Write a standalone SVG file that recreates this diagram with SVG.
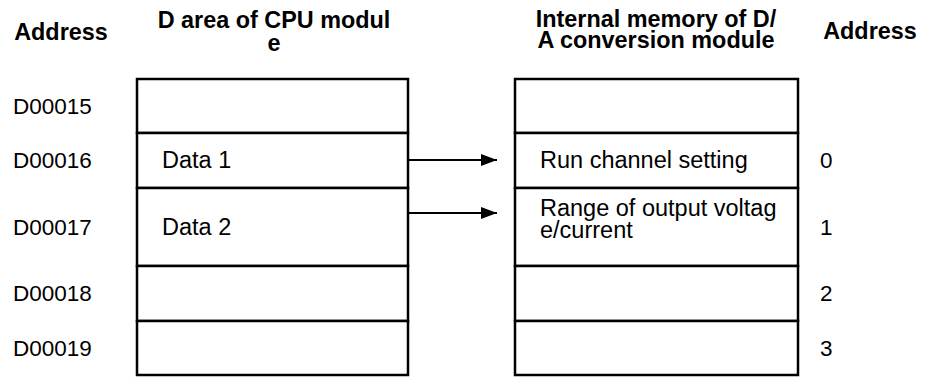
<svg xmlns="http://www.w3.org/2000/svg" width="925" height="379" viewBox="0 0 925 379">
<defs>
<style>
text{font-family:"Liberation Sans",Arial,sans-serif;font-size:22.5px;fill:#000}
.t{font-size:23.5px}
.b{font-weight:bold;font-size:23.4px}
.c{text-anchor:middle}
.box{fill:#fff;stroke:#000;stroke-width:2.5}
.conn{stroke:#000;stroke-width:2;fill:none}
</style>
<marker id="ah" markerWidth="16" markerHeight="12" refX="16" refY="6" orient="auto" markerUnits="userSpaceOnUse">
<path d="M0,0 L16,6 L0,12 Z" fill="#000"/>
</marker>
</defs>
<rect width="925" height="379" fill="#fff"/>
<g id="headers">
<text class="b c" x="61" y="40">Address</text>
<text class="b c" x="274" y="28">D area of CPU modul</text>
<text class="b c" x="274" y="51">e</text>
<text class="b c" x="656" y="27">Internal memory of D/</text>
<text class="b c" x="656" y="48">A conversion module</text>
<text class="b c" x="870" y="39">Address</text>
</g>
<g id="addr-left">
<text x="13" y="114">D00015</text>
<text x="13" y="168">D00016</text>
<text x="13" y="235">D00017</text>
<text x="13" y="301">D00018</text>
<text x="13" y="356">D00019</text>
</g>
<g id="cpu-d-area">
<rect class="box" x="137" y="79" width="271" height="54"/>
<rect class="box" x="137" y="133" width="271" height="55"/>
<rect class="box" x="137" y="188" width="271" height="78"/>
<rect class="box" x="137" y="266" width="271" height="55"/>
<rect class="box" x="137" y="321" width="271" height="54"/>
<text class="t" x="162" y="168">Data 1</text>
<text class="t" x="162" y="235">Data 2</text>
</g>
<g id="da-memory">
<rect class="box" x="515" y="79" width="283" height="54"/>
<rect class="box" x="515" y="133" width="283" height="55"/>
<rect class="box" x="515" y="188" width="283" height="78"/>
<rect class="box" x="515" y="266" width="283" height="55"/>
<rect class="box" x="515" y="321" width="283" height="54"/>
<text class="t" x="540" y="168">Run channel setting</text>
<text class="t" x="540" y="216">Range of output voltag</text>
<text class="t" x="540" y="238">e/current</text>
</g>
<g id="addr-right">
<text x="820" y="168">0</text>
<text x="820" y="235">1</text>
<text x="820" y="301">2</text>
<text x="820" y="356">3</text>
</g>
<g id="connectors">
<line class="conn" x1="409" y1="160" x2="497" y2="160" marker-end="url(#ah)"/>
<line class="conn" x1="409" y1="213" x2="497" y2="213" marker-end="url(#ah)"/>
</g>
</svg>
